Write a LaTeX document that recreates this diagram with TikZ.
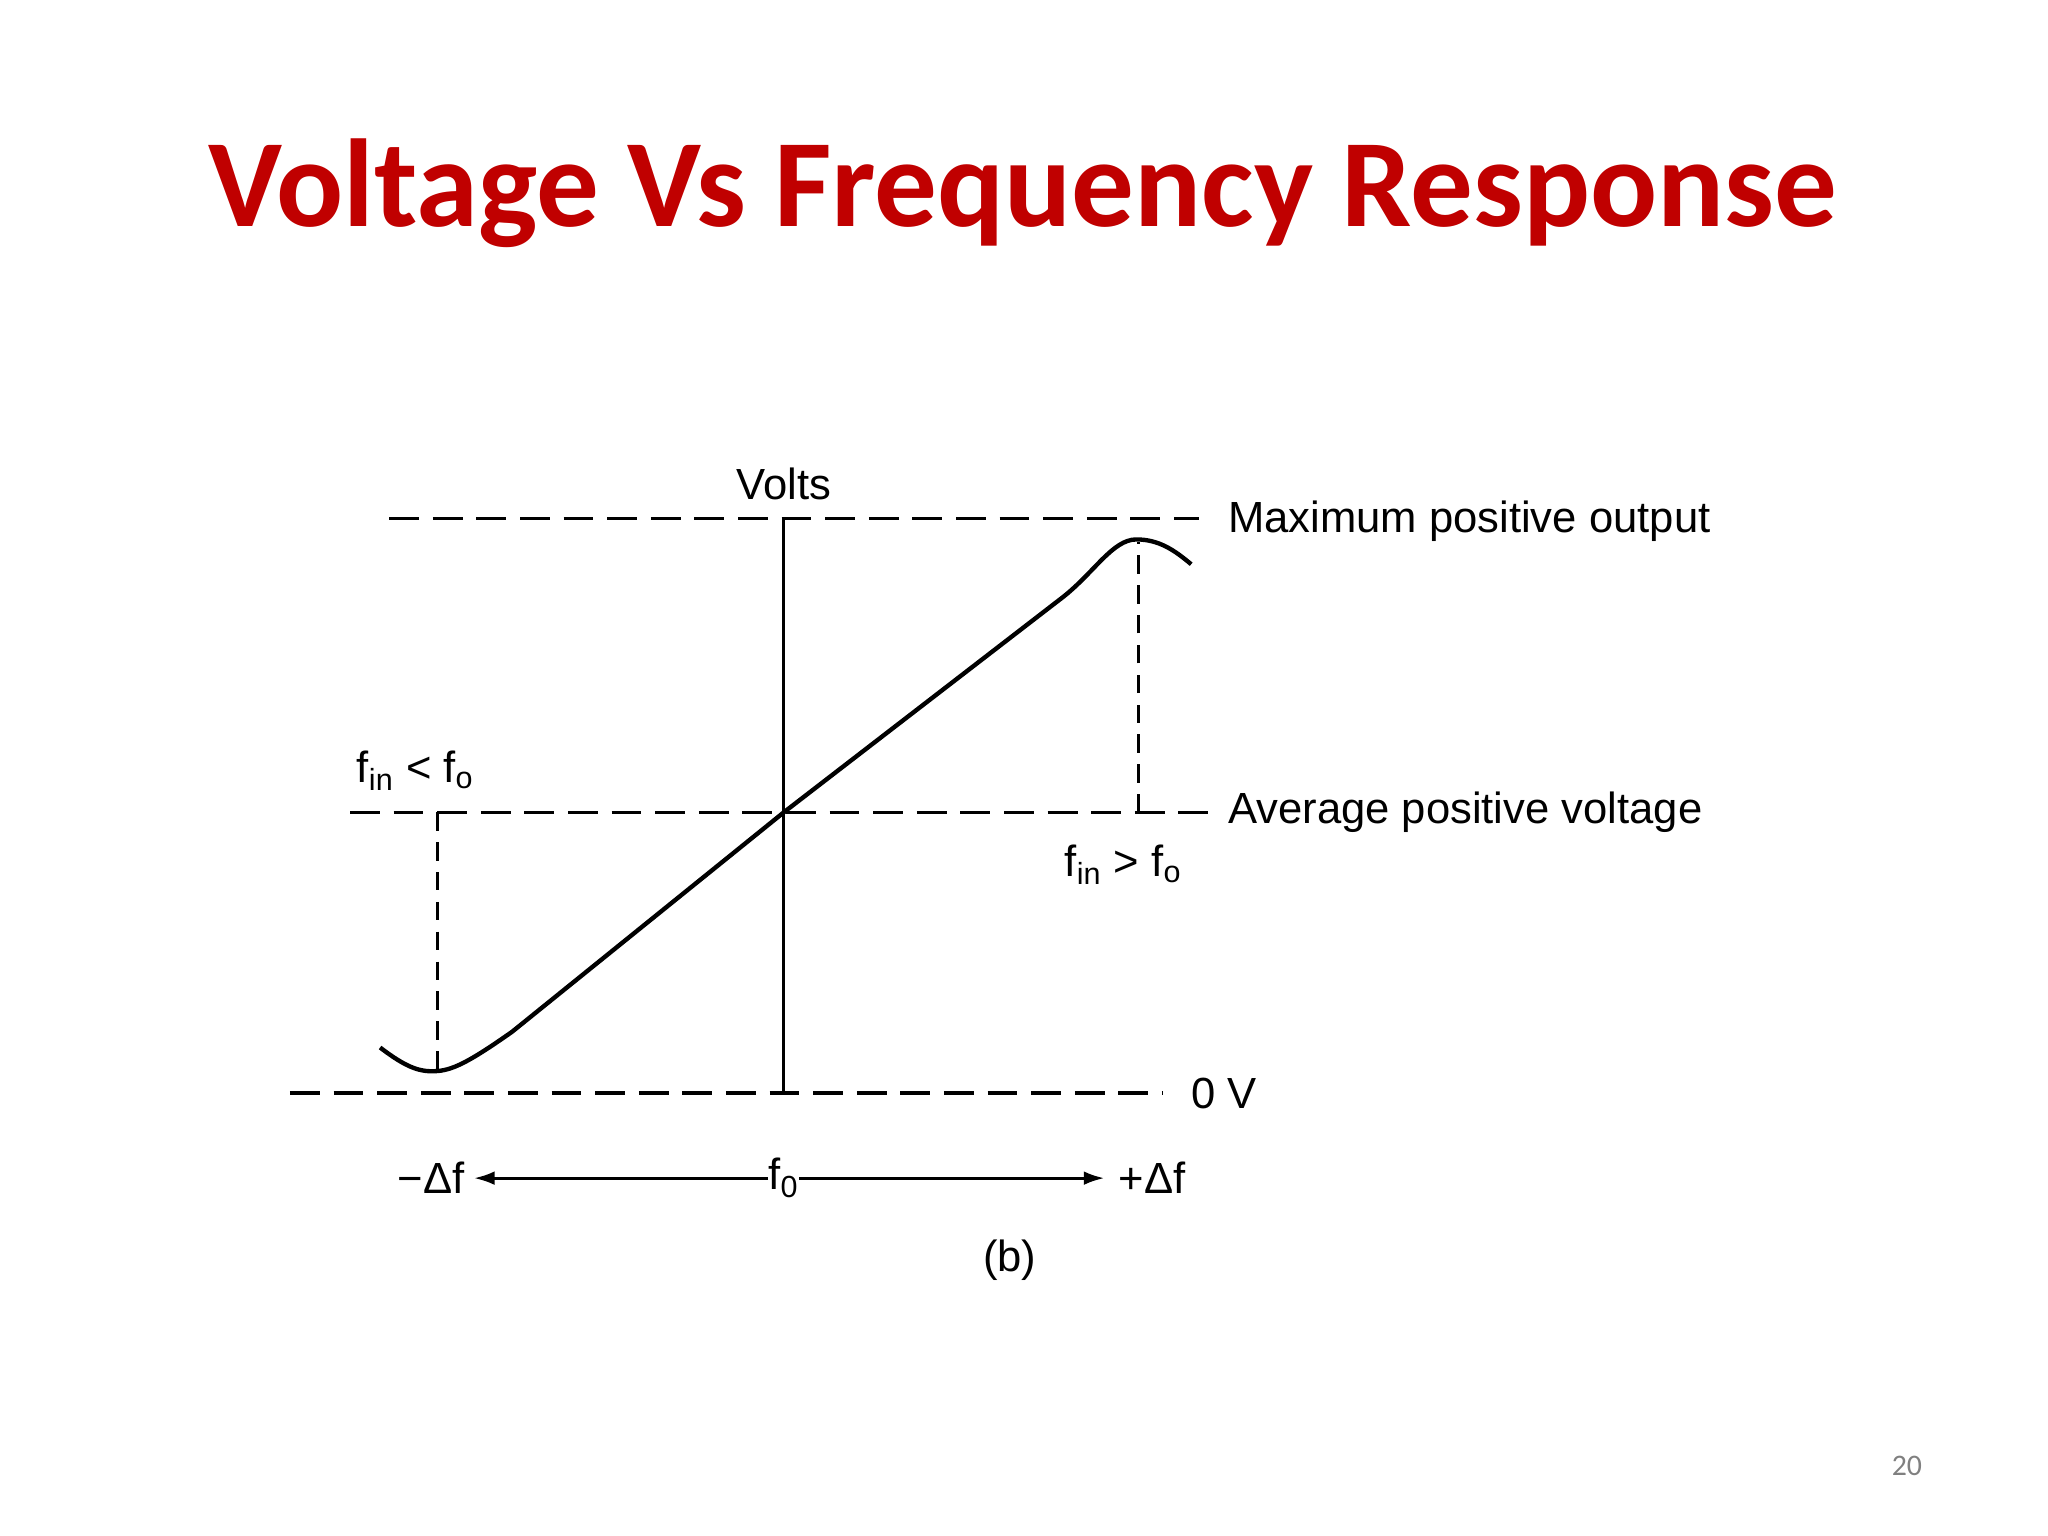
\documentclass[tikz,border=0pt]{standalone}
\usepackage{fontspec}
\setmainfont{Liberation Sans}
\newfontfamily\titlefont{Carlito}
\usetikzlibrary{arrows.meta}
\definecolor{titlered}{HTML}{C00000}
\begin{document}
\begin{tikzpicture}[x=0.02cm,y=-0.02cm,
  dline/.style={line width=1.6pt,dash pattern=on 13pt off 6pt},
  vdash/.style={line width=1.3pt,dash pattern=on 8pt off 5pt},
  lbl/.style={font=\fontsize{19}{22}\selectfont,inner sep=0pt},
  curve/.style={line width=1.9pt}]
\useasboundingbox (0,0) rectangle (1568,1176);
\node[font=\titlefont\bfseries\fontsize{54.5}{60}\selectfont,text=titlered] (title) at (783,148) {Voltage Vs Frequency Response};
\coordinate (t1) at (298,397); \coordinate (t2) at (918,397);
\coordinate (a1) at (268,622); \coordinate (a2) at (930,622);
\coordinate (z1) at (222,837); \coordinate (z2) at (890,837);
\draw[dline] (t1)--(t2);
\draw[dline] (a1)--(a2);
\draw[dline] (z1)--(z2);
\coordinate (vt) at (600,397); \coordinate (vb) at (600,837);
\draw[line width=1.3pt] (vt)--(vb);
\node[lbl,anchor=south] (volts) at (600,383) {Volts};
\node[lbl,anchor=west] (max) at (940,399) {Maximum positive output};
\node[lbl,anchor=west] (avg) at (940,622) {Average positive voltage};
\node[lbl,anchor=west] (zero) at (912,837) {0 V};
\coordinate (mn) at (335,820); \coordinate (mx) at (870,413);
\draw[curve] (291,802) .. controls (312,818) and (322,821) .. (mn)
  .. controls (348,819) and (362,811) .. (392,790) -- (600,622) -- (814,457)
  .. controls (838,438) and (852,413) .. (mx) .. controls (888,413) and (900,422) .. (912,432);
\draw[vdash] (335,622)--(mn);
\draw[vdash] (872,622)--(872,415);
\node[lbl] (fl) at (318,590) {f\textsubscript{in} < f\textsubscript{o}};
\node[lbl] (fr) at (860,662) {f\textsubscript{in} > f\textsubscript{o}};
\node[lbl] (f0) at (600,902) {f\textsubscript{0}};
\node[lbl] (mdf) at (330,902) {−Δf};
\node[lbl] (pdf) at (882,902) {+Δf};
\draw[line width=1.3pt,-{Latex[length=9pt,width=6pt]}] (f0.west) -- ([xshift=4pt]mdf.east);
\draw[line width=1.3pt,-{Latex[length=9pt,width=6pt]}] (f0.east) -- ([xshift=-6pt]pdf.west);
\node[lbl] (b) at (773,965) {(b)};
\node[font=\titlefont\fontsize{13}{15}\selectfont,text=gray] (pg) at (1460,1122) {20};
\end{tikzpicture}
\end{document}
